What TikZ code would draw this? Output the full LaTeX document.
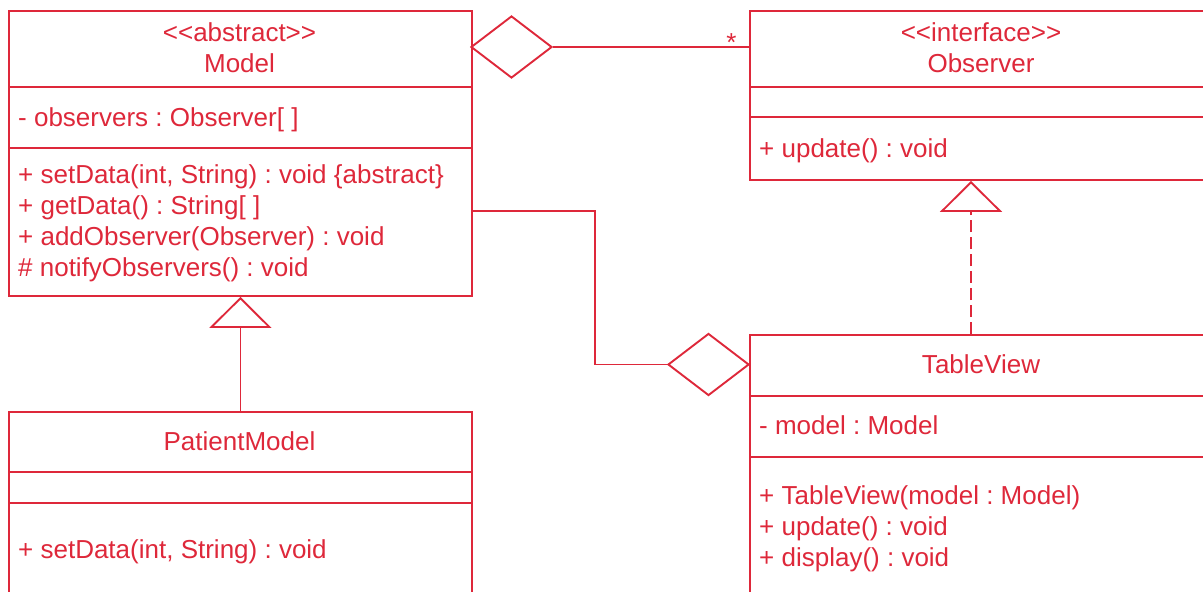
\documentclass[tikz,border=0pt]{standalone}
\usepackage{fontspec}
\setmainfont{Liberation Sans}[Ligatures=TeXOff]
\usetikzlibrary{shapes.geometric,arrows.meta}
\definecolor{umlred}{RGB}{222,40,58}
\frenchspacing
\begin{document}
\begin{tikzpicture}[x=1pt,y=-1pt,
  umlline/.style={draw=umlred,line width=1.9pt},
  classbox/.style={draw=umlred,line width=1.9pt,rectangle,inner sep=0pt,anchor=north west,minimum width=464pt},
  titletext/.style={text=umlred,font=\fontsize{26}{31}\selectfont\frenchspacing,anchor=base,inner sep=0pt},
  membertext/.style={text=umlred,font=\fontsize{26}{31}\selectfont\frenchspacing,anchor=base west,inner sep=0pt},
  aggdiamond/.style={diamond,draw=umlred,line width=1.9pt,minimum width=81pt,minimum height=62pt,inner sep=0pt,fill=white},
  opentri/.style={-{Triangle[open,length=31pt,width=62pt]}}
]
\useasboundingbox (0,0) rectangle (1203,592);
\clip (0,0) rectangle (1203,592);
% Model
\node[classbox,minimum width=463pt,minimum height=285pt] (model) at (8,10) {};
\draw[umlline] (model.west |- 0,87) -- (model.east |- 0,87);
\draw[umlline] (model.west |- 0,148) -- (model.east |- 0,148);
\node[titletext] (mster) at (239.5,41) {<<abstract>>};
\node[titletext] (mname) at (239.5,72) {Model};
\node[membertext] (mattr) at (18,126) {- observers : Observer[ ]};
\node[membertext] (mop1) at (18,183) {+ setData(int, String) : void \{abstract\}};
\node[membertext] (mop2) at (18,214) {+ getData() : String[ ]};
\node[membertext] (mop3) at (18,245) {+ addObserver(Observer) : void};
\node[membertext] (mop4) at (18,276) {\# notifyObservers() : void};
% Observer
\node[classbox,minimum height=169pt] (observer) at (749,10) {};
\draw[umlline] (observer.west |- 0,87) -- (observer.east |- 0,87);
\draw[umlline] (observer.west |- 0,117) -- (observer.east |- 0,117);
\node[titletext] (oster) at (981,41) {<<interface>>};
\node[titletext] (oname) at (981,72) {Observer};
\node[membertext] (oop1) at (759,157) {+ update() : void};
% PatientModel
\node[classbox,minimum width=463pt,minimum height=230pt] (patient) at (8,411) {};
\draw[umlline] (patient.west |- 0,472) -- (patient.east |- 0,472);
\draw[umlline] (patient.west |- 0,503) -- (patient.east |- 0,503);
\node[titletext] (pname) at (239.5,450) {PatientModel};
\node[membertext] (pop1) at (18,558) {+ setData(int, String) : void};
% TableView
\node[classbox,minimum height=300pt] (tableview) at (749,334) {};
\draw[umlline] (tableview.west |- 0,396) -- (tableview.east |- 0,396);
\draw[umlline] (tableview.west |- 0,457) -- (tableview.east |- 0,457);
\node[titletext] (tname) at (981,373) {TableView};
\node[membertext] (tattr) at (759,434) {- model : Model};
\node[membertext] (top1) at (759,504) {+ TableView(model : Model)};
\node[membertext] (top2) at (759,535) {+ update() : void};
\node[membertext] (top3) at (759,566) {+ display() : void};
% Aggregation Model -> Observer
\node[aggdiamond] (d1) at (511.5,47) {};
\draw[umlline] (d1.east) -- (d1.east -| observer.west);
\node[text=umlred,font=\fontsize{26}{31}\selectfont,anchor=base,inner sep=0pt] (mult) at (731.5,51) {*};
% Aggregation TableView -> Model
\node[aggdiamond] (d2) at (708.5,364.5) {};
\draw[umlline] (model.east |- 0,211) -- (595,211) |- (d2.west);
% Generalization
\draw[umlline,opentri] (patient.north) -- (model.south);
% Realization
\coordinate (rtop) at (observer.south -| 971,0);
\coordinate (rbot) at (tableview.north -| 971,0);
\draw[umlline,opentri,dash pattern=on 12pt off 5pt] (rbot) -- (rtop);
\end{tikzpicture}
\end{document}
